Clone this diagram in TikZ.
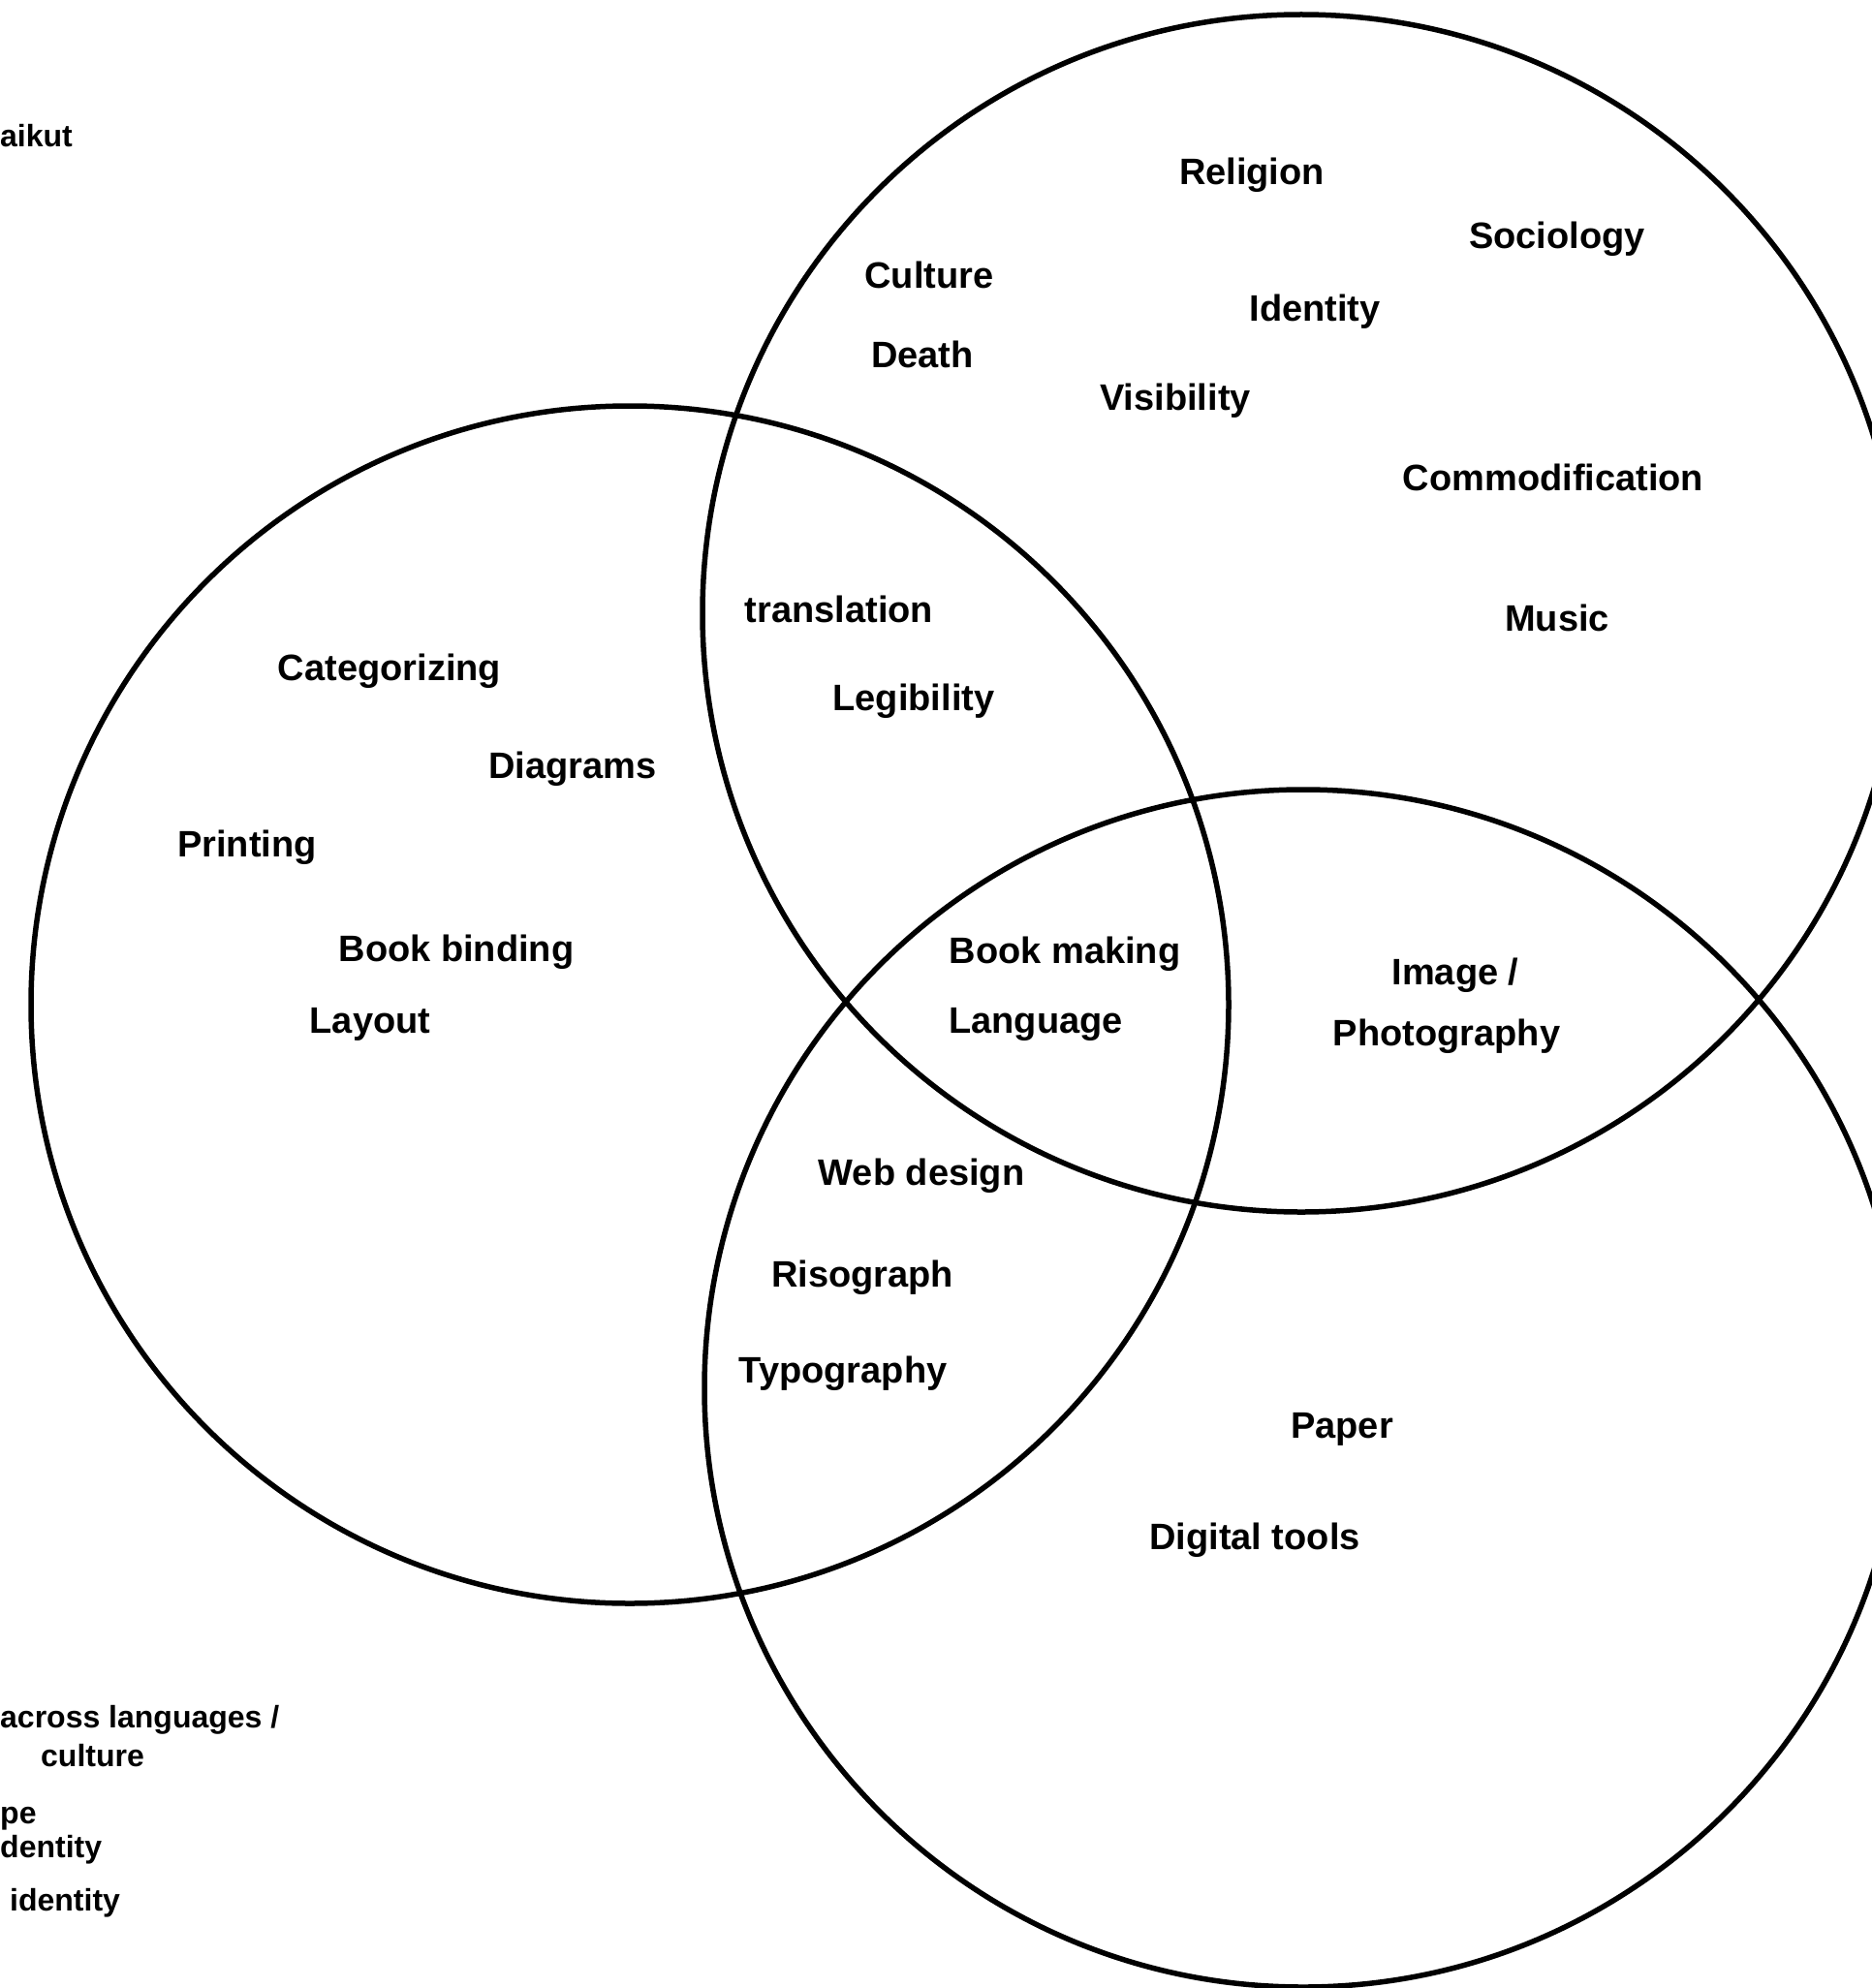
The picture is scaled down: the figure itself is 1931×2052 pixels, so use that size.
\documentclass[tikz,border=0pt]{standalone}
\usepackage{fontspec}
\setmainfont{Liberation Sans}

\begin{document}
\begin{tikzpicture}[x=1pt,y=-1pt,
    ring/.style={draw=black,line width=5.5pt},
    word/.style={font=\fontsize{38}{40}\selectfont\bfseries,inner sep=0pt,anchor=mid},
    note/.style={font=\fontsize{32}{34}\selectfont\bfseries,inner sep=0pt,anchor=mid west}]
    \useasboundingbox (0,0) rectangle (1931,2052);
    % the three circles
    \coordinate (society) at (1343,633);
    \coordinate (print) at (650,1037);
    \coordinate (media) at (1345,1433);
    \draw[ring] (society) circle[radius=618];
    \draw[ring] (print) circle[radius=618];
    \draw[ring] (media) circle[radius=618];
    % top circle
    \node[word] (religion) at (1292,188) {Religion};
    \node[word] (sociology) at (1607,254) {Sociology};
    \node[word] (culture) at (959,295) {Culture};
    \node[word] (identity) at (1357,329) {Identity};
    \node[word] (death) at (952,377) {Death};
    \node[word] (visibility) at (1213,421) {Visibility};
    \node[word] (commodification) at (1603,504) {Commodification};
    \node[word] (music) at (1607,649) {Music};
    \node[word] (translation) at (866,640) {translation};
    \node[word] (legibility) at (943,731) {Legibility};
    % left circle
    \node[word] (categorizing) at (402,700) {Categorizing};
    \node[word] (diagrams) at (591,801) {Diagrams};
    \node[word] (printing) at (255,882) {Printing};
    \node[word] (bookbinding) at (471,990) {Book binding};
    \node[word] (layout) at (382,1064) {Layout};
    % middle and bottom circle
    \node[word] (bookmaking) at (1099,992) {Book making};
    \node[word] (language) at (1069,1064) {Language};
    \node[word] (image) at (1502,1014) {Image /};
    \node[word] (photography) at (1493,1077) {Photography};
    \node[word] (webdesign) at (951,1221) {Web design};
    \node[word] (risograph) at (890,1326) {Risograph};
    \node[word] (typography) at (870,1425) {Typography};
    \node[word] (paper) at (1385,1482) {Paper};
    \node[word] (digitaltools) at (1295,1597) {Digital tools};
    % notes cut at the left edge
    \node[note] (aikut) at (0,149) {aikut};
    \node[note] (across) at (0,1781) {across languages /};
    \node[note] (culturenote) at (42,1821) {culture};
    \node[note] (pe) at (0,1880) {pe};
    \node[note] (dentity) at (0,1915) {dentity};
    \node[note] (identitynote) at (10,1970) {identity};
\end{tikzpicture}
\end{document}
